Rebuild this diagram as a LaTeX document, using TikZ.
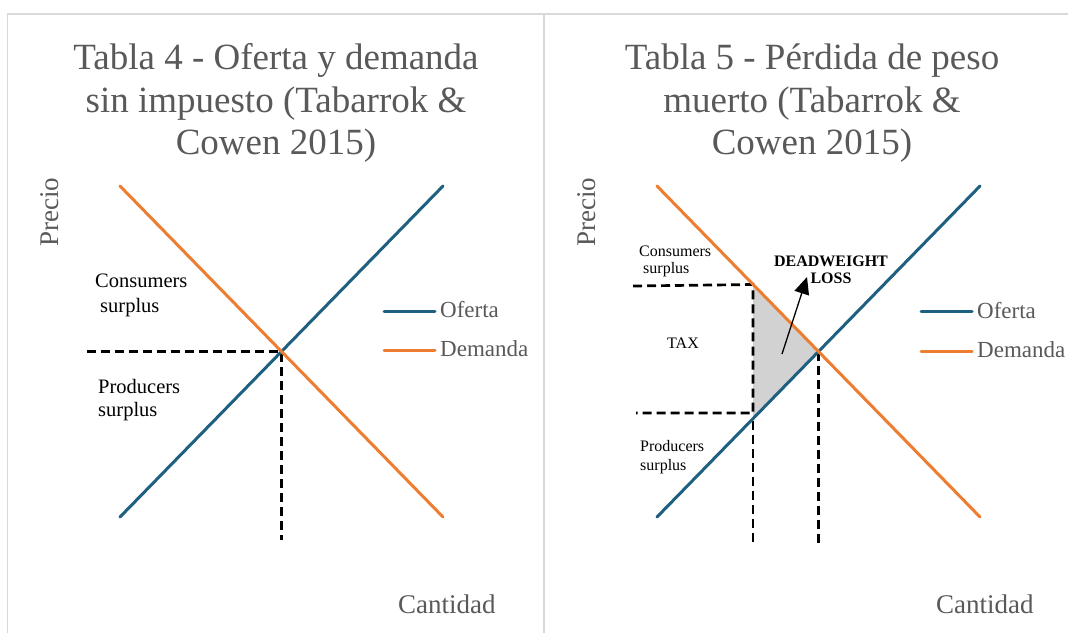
\documentclass[tikz,border=0pt]{standalone}
\usepackage{fontspec}
\setmainfont{Liberation Serif}
\usepackage{tikz}
\usetikzlibrary{arrows.meta}

\definecolor{ofertablue}{HTML}{1F5F7F}
\definecolor{demandaorange}{HTML}{ED7D31}
\definecolor{labelgray}{HTML}{595959}
\definecolor{framegray}{HTML}{D9D9D9}

\begin{document}
\begin{tikzpicture}[x=1pt, y=-1pt,
    frameline/.style={draw=framegray, line width=1.5pt},
    oferta/.style={draw=ofertablue, line width=3pt, line cap=round},
    demanda/.style={draw=demandaorange, line width=3pt, line cap=round},
    guide/.style={draw=black, line width=2.7pt, dash pattern=on 9pt off 5pt},
    charttitle/.style={font=\fontsize{37}{42.5}\selectfont, text=labelgray, align=center, inner sep=0pt, anchor=north},
    axislabel/.style={font=\fontsize{27}{30}\selectfont, text=labelgray, inner sep=0pt},
    legendtext/.style={font=\fontsize{23}{26}\selectfont, text=labelgray, inner sep=0pt, anchor=base west},
    surplustext/.style={font=\fontsize{20.5}{24}\selectfont, inner sep=0pt, anchor=base west},
    smalltext/.style={font=\fontsize{16}{18}\selectfont, inner sep=0pt, anchor=base west}]
    \useasboundingbox (0,0) rectangle (1068,633);

    % Frames
    \draw[frameline] (7.5,633) -- (7.5,14) -- (1068,14);
    \draw[frameline] (544,14) -- (544,633);

    % Left chart: points
    \coordinate (d1top) at (120,186);
    \coordinate (d1bot) at (443,517);
    \coordinate (s1bot) at (120,517);
    \coordinate (s1top) at (443,186);
    \coordinate (eq1) at (281.5,351.5);
    \coordinate (p1) at (87,351.5);
    \coordinate (q1) at (281.5,540);

    % Left chart: texts
    \node[charttitle] (title1) at (276,43.7) {Tabla 4 - Oferta y demanda\\sin impuesto (Tabarrok \&\\Cowen 2015)};
    \node[axislabel, rotate=90, anchor=base] (precio1) at (58,212) {Precio};
    \node[axislabel, anchor=base west] (cantidad1) at (398,613) {Cantidad};
    \node[surplustext] (cons1) at (95,287) {Consumers};
    \node[surplustext] (cons1b) at (100,312) {surplus};
    \node[surplustext] (prod1) at (98,393) {Producers};
    \node[surplustext] (prod1b) at (98,416) {surplus};

    % Left chart: lines
    \draw[guide] (p1) -- (eq1) -- (q1);
    \draw[oferta] (s1bot) -- (s1top);
    \draw[demanda] (d1top) -- (d1bot);

    % Left chart: legend
    \coordinate (lo1a) at (384,311);
    \coordinate (lo1b) at (435,311);
    \coordinate (ld1a) at (384,350);
    \coordinate (ld1b) at (435,350);
    \draw[oferta] (lo1a) -- (lo1b);
    \draw[demanda] (ld1a) -- (ld1b);
    \node[legendtext] (ofertalab1) at (440,317) {Oferta};
    \node[legendtext] (demandalab1) at (440,356) {Demanda};

    % Right chart: points
    \coordinate (d2top) at (657,186);
    \coordinate (d2bot) at (980,517);
    \coordinate (s2bot) at (657,517);
    \coordinate (s2top) at (980,186);
    \coordinate (eq2) at (818.5,351.5);
    \coordinate (taxtop) at (753,284.5);
    \coordinate (taxbot) at (753,418.5);
    \coordinate (taxcorner) at (753,413);
    \coordinate (ptop) at (633,286);
    \coordinate (pbot) at (636,413);
    \coordinate (qlow) at (753,421);
    \coordinate (qlowend) at (753,545);
    \coordinate (q2) at (818.5,545);
    \coordinate (dwtail) at (782,354);
    \coordinate (dwtip) at (807,277);

    % Right chart: texts
    \node[charttitle] (title2) at (812,43.7) {Tabla 5 - Pérdida de peso\\muerto (Tabarrok \&\\Cowen 2015)};
    \node[axislabel, rotate=90, anchor=base] (precio2) at (595,212) {Precio};
    \node[axislabel, anchor=base west] (cantidad2) at (936,613) {Cantidad};
    \node[smalltext] (cons2) at (639,256) {Consumers};
    \node[smalltext] (cons2b) at (643,273) {surplus};
    \node[smalltext] (tax) at (667,348) {TAX};
    \node[smalltext] (prod2) at (640,451) {Producers};
    \node[smalltext] (prod2b) at (640,470) {surplus};
    \node[smalltext, anchor=base, font=\fontsize{16}{18}\selectfont\bfseries] (dwl) at (831,266) {DEADWEIGHT};
    \node[smalltext, anchor=base, font=\fontsize{16}{18}\selectfont\bfseries] (dwlb) at (831,283) {LOSS};

    % Right chart: lines
    \fill[gray!35] (taxtop) -- (eq2) -- (taxbot) -- cycle;
    \draw[guide] (ptop) -- (taxtop) -- (taxcorner) -- (pbot);
    \draw[guide] (qlow) -- (qlowend);
    \draw[guide] (eq2) -- (q2);
    \draw[oferta] (s2bot) -- (s2top);
    \draw[demanda] (d2top) -- (d2bot);
    \draw[-{Triangle[length=17pt, width=15pt]}, line width=1.3pt] (dwtail) -- (dwtip);

    % Right chart: legend
    \coordinate (lo2a) at (921,311);
    \coordinate (lo2b) at (972,311);
    \coordinate (ld2a) at (921,351);
    \coordinate (ld2b) at (972,351);
    \draw[oferta] (lo2a) -- (lo2b);
    \draw[demanda] (ld2a) -- (ld2b);
    \node[legendtext] (ofertalab2) at (977,318) {Oferta};
    \node[legendtext] (demandalab2) at (977,357) {Demanda};
\end{tikzpicture}
\end{document}
